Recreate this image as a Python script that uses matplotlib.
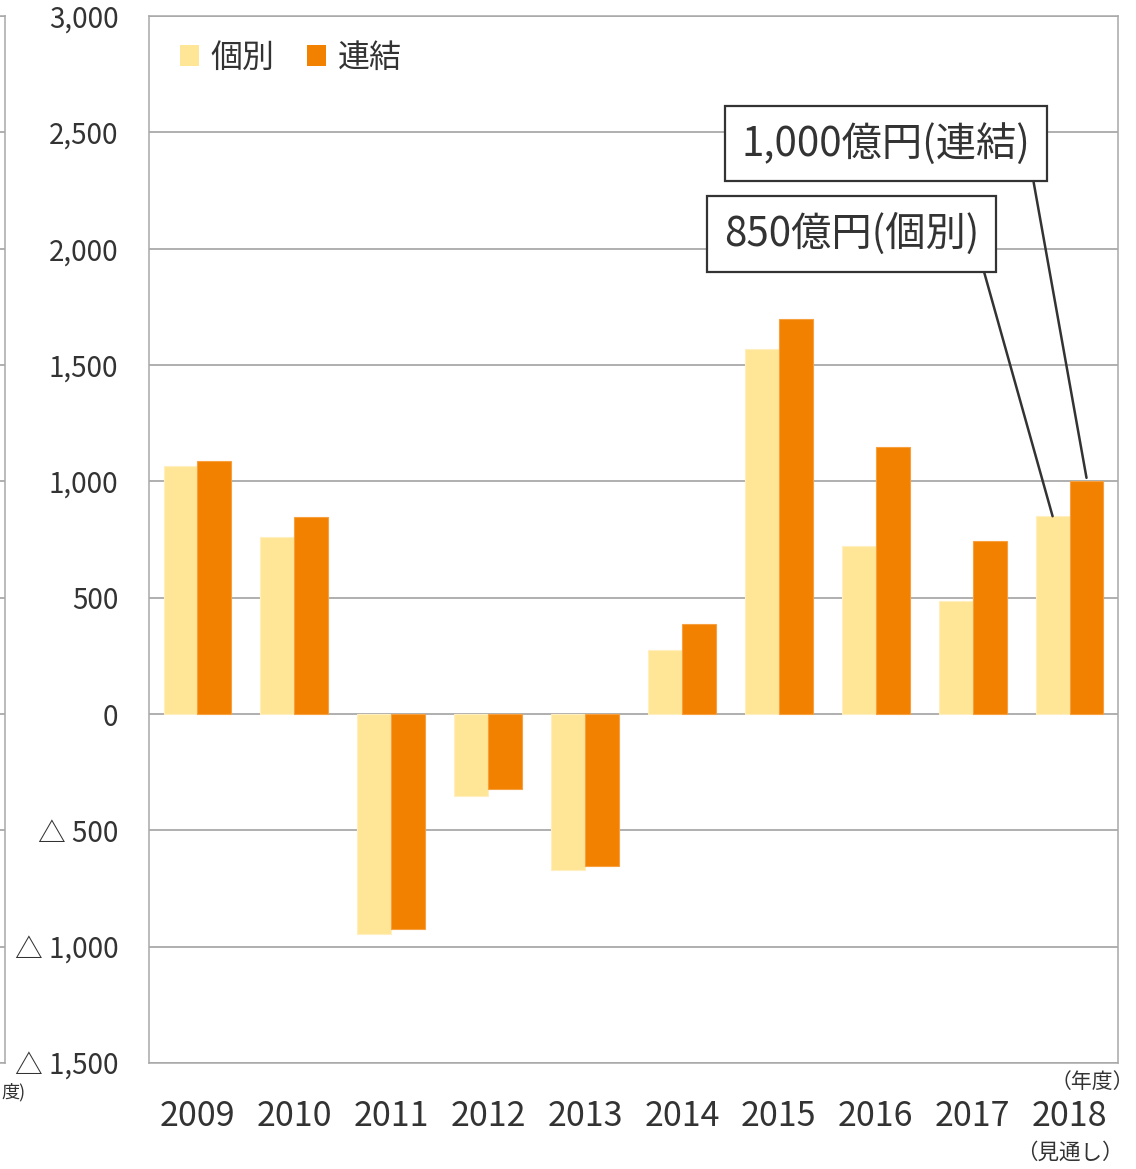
import matplotlib
matplotlib.use("Agg")
import matplotlib.pyplot as plt
import numpy as np
from matplotlib.patches import Patch

plt.rcParams['font.family'] = ['Noto Sans CJK JP', 'DejaVu Sans']

years = ['2009', '2010', '2011', '2012', '2013', '2014', '2015', '2016', '2017', '2018']
individual = [1067, 759, -947, -352, -672, 275, 1570, 720, 485, 850]
consolidated = [1087, 847, -923, -323, -652, 388, 1696, 1147, 743, 1000]
yticks = [-1500, -1000, -500, 0, 500, 1000, 1500, 2000, 2500, 3000]
series_labels = ['個別', '連結']
callout_cons = '1,000億円(連結)'
callout_ind = '850億円(個別)'

C_IND = '#FFE697'
C_CONS = '#F28100'
GRID = '#9a9a9a'
TXT = '#333333'

W, H = 1136, 1169
fig = plt.figure(figsize=(W / 100, H / 100), dpi=100)
ax = fig.add_axes([149 / W, (H - 1063) / H, 969 / W, 1047 / H])

x = np.arange(len(years))
bw = 0.35
ax.bar(x - bw / 2, individual, bw, color=C_IND, edgecolor='#FFEFC0', linewidth=0.8, zorder=3)
ax.bar(x + bw / 2, consolidated, bw, color=C_CONS, edgecolor='#F6A040', linewidth=0.8, zorder=3)

ax.set_xlim(-0.5, len(years) - 0.5)
ax.set_ylim(-1500, 3000)
ax.set_yticks(yticks)
ax.set_yticklabels([('△ ' + f'{-v:,}') if v < 0 else f'{v:,}' for v in yticks])
ax.set_xticks(x)
ax.set_xticklabels(years)
ax.tick_params(axis='y', length=0, pad=22, labelsize=20, labelcolor=TXT)
ax.tick_params(axis='x', length=0, pad=26, labelsize=24.5, labelcolor=TXT)
ax.yaxis.grid(True, color=GRID, linewidth=1.1, zorder=0)
ax.set_axisbelow(True)
for s in ax.spines.values():
    s.set_color('#a8a8a8')
    s.set_linewidth(1.1)

# legend
handles = [Patch(facecolor=C_IND, edgecolor='none'), Patch(facecolor=C_CONS, edgecolor='none')]
leg = ax.legend(handles, series_labels, loc='upper left', bbox_to_anchor=(0.002, 1.003), ncol=2,
                frameon=False, fontsize=23, handlelength=0.62, handleheight=0.62,
                handletextpad=0.35, columnspacing=1.0, labelcolor=TXT)

# callouts
box = dict(boxstyle='square,pad=0.42', facecolor='white', edgecolor='#333333', linewidth=1.6)
ax.annotate(callout_cons, xy=(9 + bw / 2, 1015), xytext=(7.106, 2452), textcoords='data',
            ha='center', va='center', fontsize=29, color=TXT, bbox=box, zorder=5,
            arrowprops=dict(arrowstyle='-', color='#333333', lw=1.8, relpos=(1, 0),
                            shrinkA=0, shrinkB=0))
ax.annotate(callout_ind, xy=(9 - bw / 2, 850), xytext=(6.75, 2065), textcoords='data',
            ha='center', va='center', fontsize=29, color=TXT, bbox=box, zorder=5,
            arrowprops=dict(arrowstyle='-', color='#333333', lw=1.8, relpos=(1, 0),
                            shrinkA=0, shrinkB=0))

fig.text(1134 / W, 1 - 1082 / H, '（年度）', ha='right', va='center', fontsize=15, color=TXT)
fig.text(1070 / W, 1 - 1153 / H, '（見通し）', ha='center', va='center', fontsize=15.5, color=TXT)

# remnant of neighbouring chart at the left edge
ax2 = fig.add_axes([-20 / W, (H - 1063) / H, 25 / W, 1047 / H])
ax2.set_ylim(-1500, 3000)
ax2.set_yticks(yticks)
ax2.yaxis.grid(True, color=GRID, linewidth=1.1)
ax2.set_xticks([])
ax2.tick_params(axis='y', length=0, labelleft=False)
for k, s in ax2.spines.items():
    s.set_color('#a8a8a8')
    s.set_linewidth(1.1)
    if k == 'left':
        s.set_visible(False)
fig.text(1 / W, 1 - 1092 / H, '度)', ha='left', va='center', fontsize=13, color=TXT)

fig.savefig('out.png', dpi=100, facecolor='white')
